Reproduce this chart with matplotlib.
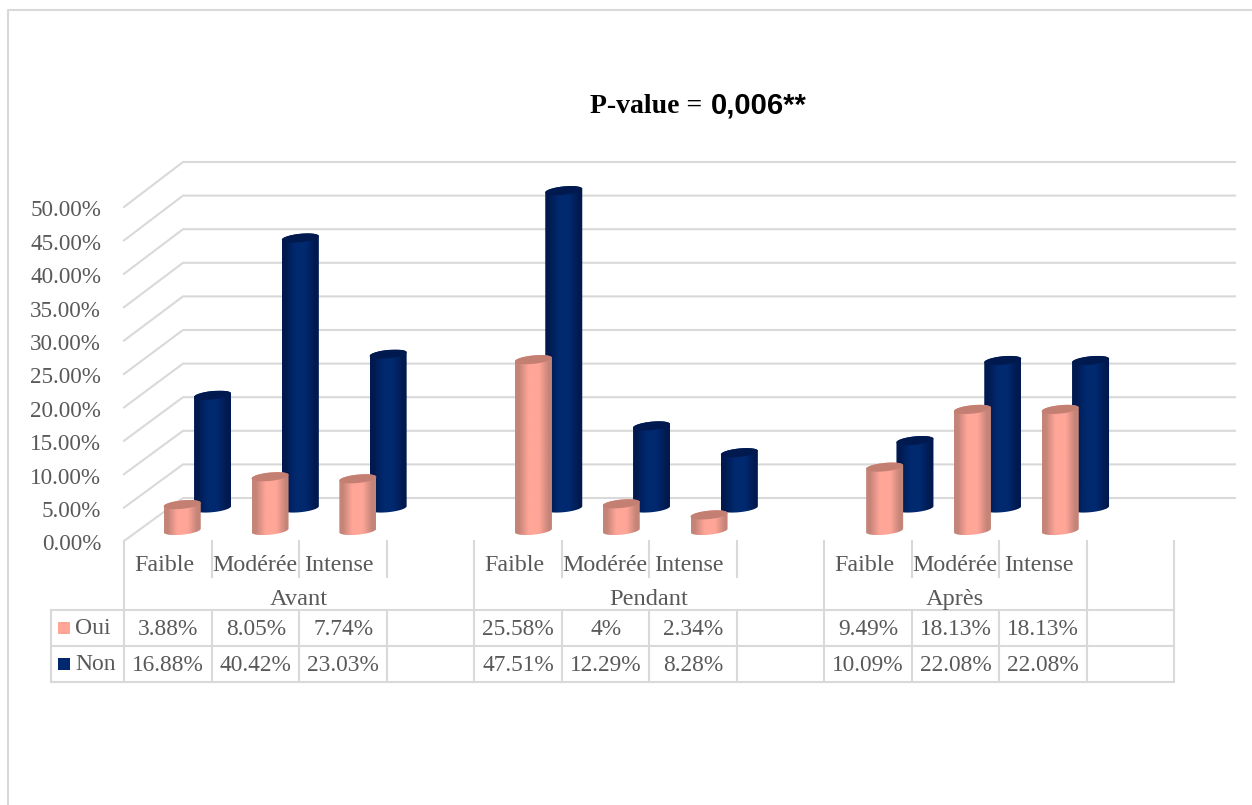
import numpy as np
import matplotlib
matplotlib.use('Agg')
import matplotlib.pyplot as plt
from matplotlib.path import Path
from matplotlib.colors import LinearSegmentedColormap
from matplotlib.transforms import ScaledTranslation

groups = ['Avant', 'Pendant', 'Après']
levels = ['Faible', 'Modérée', 'Intense']
oui = [3.88, 8.05, 7.74, 25.58, 4, 2.34, 9.49, 18.13, 18.13]
non = [16.88, 40.42, 23.03, 47.51, 12.29, 8.28, 10.09, 22.08, 22.08]
oui_labels = ['3.88%', '8.05%', '7.74%', '25.58%', '4%', '2.34%', '9.49%', '18.13%', '18.13%']
non_labels = ['16.88%', '40.42%', '23.03%', '47.51%', '12.29%', '8.28%', '10.09%', '22.08%', '22.08%']
yticks = [0, 5, 10, 15, 20, 25, 30, 35, 40, 45, 50]

W, H = 1252, 805
GRID = '#d9d9d9'
TEXT = '#595959'
SERIF = 'Liberation Serif'

# pixels per unit on the value axes
PX_X = 87.5
PX_Y = 6.68
# columns sit a bit wider apart than the table cells
SLOT_STEP = 87.8 / PX_X


def cylinder(ax, xc, value, depth, edge, mid, top):
    """one shaded 3d column, depth is the shift up the floor in pixels"""
    rx = 18.5 / PX_X
    ry = 4.2 / PX_Y
    tilt = 1.8 / PX_Y
    base = depth / PX_Y
    head = base + value

    t = np.linspace(np.pi, 2 * np.pi, 40)
    low_x = xc + rx * np.cos(t)
    low_y = base + ry * np.sin(t) + tilt * np.cos(t)
    t2 = np.linspace(0, np.pi, 40)
    up_x = xc + rx * np.cos(t2)
    up_y = head + ry * np.sin(t2) + tilt * np.cos(t2)
    body = Path(np.column_stack([np.r_[low_x, up_x], np.r_[low_y, up_y]]))

    cmap = LinearSegmentedColormap.from_list(
        'c', [(0, edge), (0.1, edge), (0.36, mid), (0.64, mid), (0.9, edge), (1, edge)])
    grad = np.linspace(0, 1, 64).reshape(1, -1)
    im = ax.imshow(grad, cmap=cmap, aspect='auto', interpolation='bilinear',
                   extent=(xc - rx, xc + rx, low_y.min(), up_y.max()), zorder=3)
    im.set_clip_path(body, ax.transData)
    im.set_clip_box(ax.figure.bbox)

    t3 = np.linspace(0, 2 * np.pi, 80)
    ax.fill(xc + rx * np.cos(t3), head + ry * np.sin(t3) + tilt * np.cos(t3),
            color=top, lw=0, zorder=3, clip_on=False)


fig = plt.figure(figsize=(W / 100, H / 100), dpi=100)

# full size axes in pixels for the frame, table and captions
frame = fig.add_axes([0, 0, 1, 1])
frame.set_xlim(0, W)
frame.set_ylim(H, 0)
frame.axis('off')

frame.plot([8, 8, W], [H, 10, 10], color=GRID, lw=1.5)

frame.text(590, 113, 'P-value = ', family=SERIF, weight='bold', size=20, color='black', va='baseline')
frame.text(711, 113, '0,006**', family='Liberation Sans', weight='bold', size=21, color='black', va='baseline')

# value axes, same width as the twelve table columns
ax = fig.add_axes([124 / W, (H - 541) / H, 1050 / W, 334 / H])
ax.patch.set_alpha(0)
ax.set_xlim(0, 12)
ax.set_ylim(0, 50)
for s in ax.spines.values():
    s.set_visible(False)
ax.set_xticks([])
ax.set_yticks(yticks)
ax.set_yticklabels(['%.2f%%' % v for v in yticks], family=SERIF, size=16.7, color=TEXT)
ax.tick_params(axis='y', length=0, pad=16.5)
for lab in ax.get_yticklabels():
    lab.set_transform(lab.get_transform() + ScaledTranslation(0, -1 / 72, fig.dpi_scale_trans))

# side wall and back wall gridlines, the back wall is a little taller
wall_x = 59 / PX_X
wall_y = 43 / PX_Y
wall_end = (1235 - 124) / PX_X
for v in yticks:
    back = v * 336 / 334 + wall_y
    ax.plot([0, wall_x, wall_end], [v, back, back],
            color=GRID, lw=1.5, zorder=1, clip_on=False, solid_joinstyle='miter')

# columns, the rear series goes first
slots = [0, 1, 2, 4, 5, 6, 8, 9, 10]
for s, v in zip(slots, non):
    cylinder(ax, s * SLOT_STEP + 0.5 + 44.8 / PX_X, v, 33, '#001a50', '#00296f', '#001a50')
for s, v in zip(slots, oui):
    cylinder(ax, s * SLOT_STEP + 0.5 + 14.5 / PX_X, v, 10.5, '#c58478', '#ffa698', '#c47f73')
ax.set_xlim(0, 12)
ax.set_ylim(0, 50)

# table lines
cols = [124 + PX_X * i for i in range(13)]
full = [0, 4, 8, 11, 12]
for i, x in enumerate(cols):
    if i in full:
        frame.plot([x, x], [541, 682], color=GRID, lw=1.5, zorder=1)
    else:
        frame.plot([x, x], [541, 577], color=GRID, lw=1.5, zorder=1)
        frame.plot([x, x], [610, 682], color=GRID, lw=1.5, zorder=1)
frame.plot([51, 51], [610, 682], color=GRID, lw=1.5, zorder=1)
for y in [610, 646, 682]:
    frame.plot([51, cols[-1]], [y, y], color=GRID, lw=1.5, zorder=1)

# table text
level_shift = [-3, 0, -4]
for g, name in enumerate(groups):
    frame.text((cols[full[g]] + cols[full[g + 1]]) / 2, 599, name, family=SERIF, size=17.6, color=TEXT,
               ha='center', va='center')
    for j, lev in enumerate(levels):
        frame.text(cols[g * 4 + j] + PX_X / 2 + level_shift[j], 565, lev, family=SERIF, size=17.3, color=TEXT,
                   ha='center', va='center')
for s, a, b in zip(slots, oui_labels, non_labels):
    frame.text(cols[s] + PX_X / 2 + 0.5, 629, a, family=SERIF, size=16.8, color=TEXT, ha='center', va='center')
    frame.text(cols[s] + PX_X / 2 + 0.5, 665, b, family=SERIF, size=16.8, color=TEXT, ha='center', va='center')

# legend keys in the first table column
frame.fill([58, 70, 70, 58], [622, 622, 634, 634], color='#ffa698', lw=0)
frame.fill([58, 70, 70, 58], [658, 658, 670, 670], color='#00286d', lw=0)
frame.text(75, 628, 'Oui', family=SERIF, size=17, color=TEXT, va='center')
frame.text(75, 664, 'Non', family=SERIF, size=17, color=TEXT, va='center')

fig.savefig('out.png', dpi=100)
